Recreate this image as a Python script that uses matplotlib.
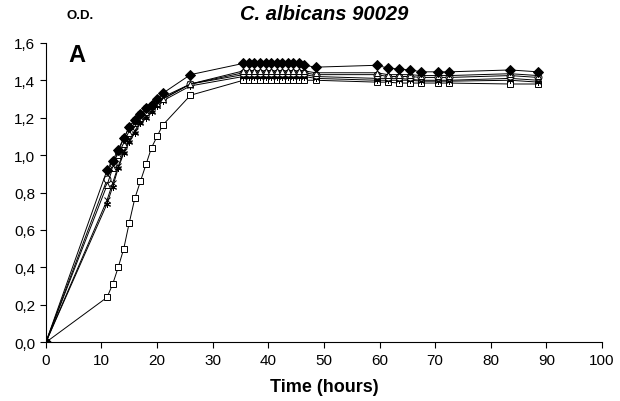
import matplotlib
matplotlib.use("Agg")
import matplotlib.pyplot as plt

plt.rcParams['font.family'] = ['Liberation Sans', 'DejaVu Sans']

# Time points (hours)
t_all = [0, 11, 12, 13, 14, 15, 16, 17, 18, 19, 20, 21, 26,
         35.5, 36.5, 37.5, 38.5, 39.5, 40.5, 41.5, 42.5, 43.5, 44.5, 45.5, 46.5,
         48.5, 59.5, 61.5, 63.5, 65.5, 67.5, 70.5, 72.5, 83.5, 88.5]

# O.D. values
od_diamond = [0, 0.92, 0.97, 1.03, 1.09, 1.15, 1.19, 1.22, 1.25, 1.27, 1.30, 1.33, 1.43,
              1.49, 1.49, 1.49, 1.49, 1.49, 1.49, 1.49, 1.49, 1.49, 1.49, 1.49, 1.48,
              1.47, 1.48, 1.465, 1.46, 1.455, 1.445, 1.445, 1.445, 1.455, 1.445]
od_square = [0, 0.24, 0.31, 0.40, 0.50, 0.64, 0.77, 0.86, 0.95, 1.04, 1.10, 1.16, 1.32,
             1.40, 1.40, 1.40, 1.40, 1.40, 1.40, 1.40, 1.40, 1.40, 1.40, 1.40, 1.40,
             1.40, 1.39, 1.39, 1.385, 1.385, 1.385, 1.385, 1.385, 1.38, 1.38]
od_triangle = [0, 0.84, 0.93, 1.00, 1.06, 1.12, 1.17, 1.20, 1.23, 1.26, 1.28, 1.30, 1.38,
               1.45, 1.45, 1.45, 1.45, 1.45, 1.45, 1.45, 1.45, 1.45, 1.45, 1.45, 1.45,
               1.44, 1.44, 1.43, 1.43, 1.43, 1.425, 1.425, 1.425, 1.435, 1.425]
od_x = [0, 0.76, 0.85, 0.94, 1.02, 1.08, 1.13, 1.18, 1.21, 1.24, 1.27, 1.30, 1.38,
        1.43, 1.43, 1.43, 1.43, 1.43, 1.43, 1.43, 1.43, 1.43, 1.43, 1.43, 1.43,
        1.42, 1.41, 1.41, 1.41, 1.405, 1.40, 1.40, 1.40, 1.41, 1.40]
od_star = [0, 0.74, 0.83, 0.93, 1.01, 1.07, 1.12, 1.17, 1.20, 1.23, 1.26, 1.29, 1.37,
           1.42, 1.42, 1.42, 1.42, 1.42, 1.42, 1.42, 1.42, 1.42, 1.42, 1.42, 1.42,
           1.41, 1.40, 1.40, 1.40, 1.40, 1.395, 1.395, 1.395, 1.40, 1.39]
od_circle = [0, 0.87, 0.95, 1.02, 1.09, 1.15, 1.19, 1.22, 1.25, 1.27, 1.29, 1.31, 1.38,
             1.44, 1.44, 1.44, 1.44, 1.44, 1.44, 1.44, 1.44, 1.44, 1.44, 1.44, 1.44,
             1.43, 1.43, 1.42, 1.42, 1.42, 1.415, 1.415, 1.415, 1.425, 1.415]

x_ticks = list(range(0, 101, 10))
y_ticks = [0.0, 0.2, 0.4, 0.6, 0.8, 1.0, 1.2, 1.4, 1.6]

fig = plt.figure(figsize=(6.2, 4.02), dpi=100)
ax = fig.add_axes([0.074, 0.146, 0.897, 0.745])

series = [
    (od_square, 's', 'white'),
    (od_star, (6, 2, 0), 'black'),
    (od_x, 'x', 'black'),
    (od_circle, 'o', 'white'),
    (od_triangle, '^', 'white'),
    (od_diamond, 'D', 'black'),
]
for vals, mk, fc in series:
    ax.plot(t_all, vals, color='black', lw=0.7, marker=mk, markersize=5,
            markerfacecolor=fc, markeredgecolor='black', markeredgewidth=0.7)

ax.set_xlim(0, 100)
ax.set_ylim(0, 1.6)
ax.set_xticks(x_ticks)
ax.set_yticks(y_ticks)
ax.set_yticklabels([f"{v:.1f}".replace('.', ',') for v in y_ticks])
ax.spines['top'].set_visible(False)
ax.spines['right'].set_visible(False)
ax.tick_params(direction='out', length=4, width=0.8, labelsize=11)

ax.set_xlabel('Time (hours)', fontsize=13, fontweight='bold', labelpad=8)
ax.set_title('C. albicans 90029', fontsize=14.5, fontweight='bold', style='italic', pad=17)
fig.text(0.108, 0.96, 'O.D.', fontsize=9.5, fontweight='bold', ha='left', va='center')
ax.text(4, 1.54, 'A', fontsize=17, fontweight='bold', ha='left', va='center')

fig.savefig('out.png', dpi=100)
